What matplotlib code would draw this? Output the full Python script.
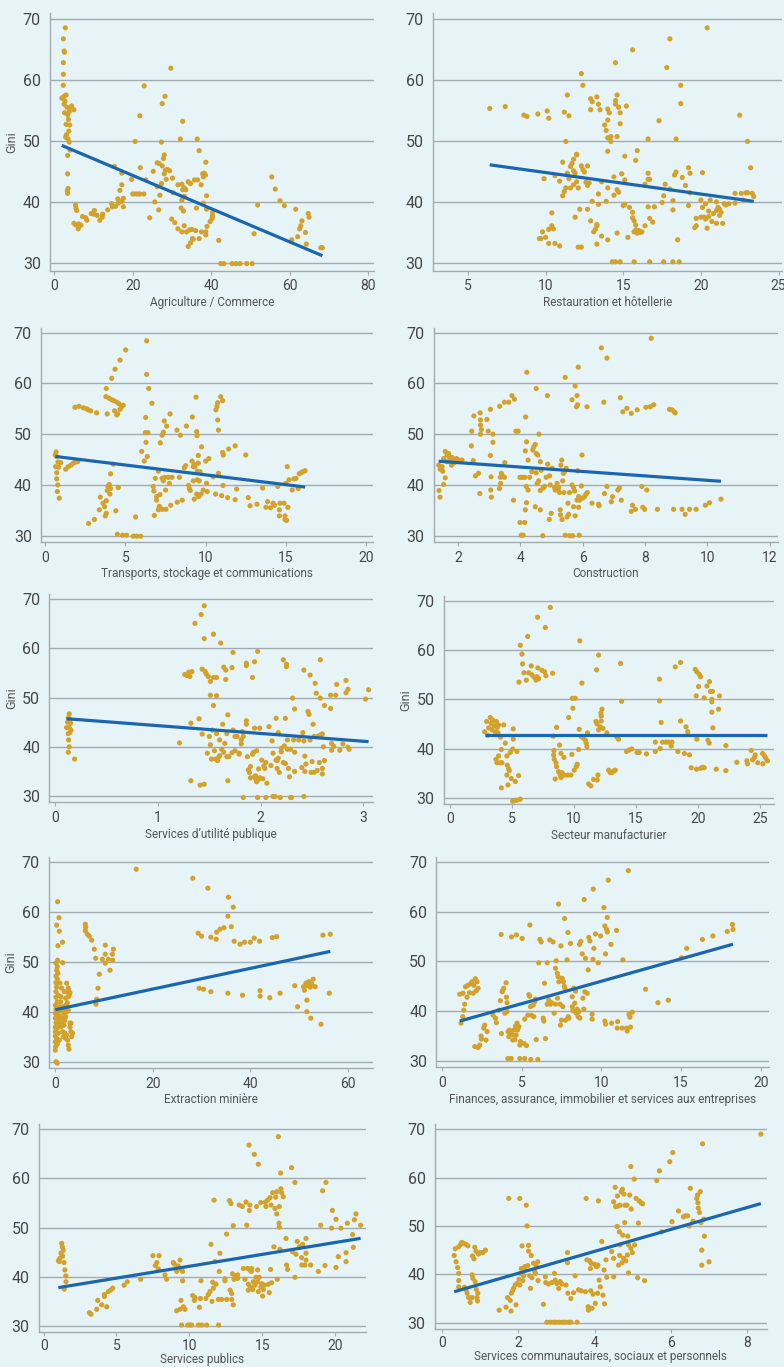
import numpy as np
import matplotlib
matplotlib.use("Agg")
import matplotlib.pyplot as plt

plt.rcParams['font.family'] = ['Roboto', 'DejaVu Sans']

BG = '#e6f4f8'
DOT = '#d4a22b'
LINE = '#1a66b0'

# ---- data (share of employment by sector vs Gini) ----
agri_pts = [(2.8,68.5),(2.3,66.7),(2.5,64.7),(2.6,64.5),(2.3,62.8),(2.3,60.9),(2.3,59.1),(1.9,57.0),(2.5,57.3),
    (3.0,57.5),(2.7,56.5),(2.5,56.0),(3.2,55.5),(4.0,55.3),(4.4,55.7),(5.0,55.1),(2.6,54.6),(3.8,54.8),(3.4,54.3),
    (3.6,53.5),(3.0,52.7),(3.9,52.6),(3.7,51.6),(3.1,51.0),(2.9,50.6),(3.5,50.3),(3.8,49.8),(4.0,48.5),(3.4,47.6),
    (3.4,44.6),(3.5,42.2),(3.3,41.8),(3.4,41.4),(5.4,39.5),(5.5,39.0),(5.7,38.6),(5.0,36.5),(5.5,36.2),(6.2,36.4),
    (6.3,36.0),(6.1,35.6),(6.8,36.2),(7.2,37.6),(8.0,37.4),(8.3,37.0),(9.4,38.1),(10.2,38.6),(10.0,38.0),(10.9,37.8),
    (11.6,37.0),(12.2,37.5),(12.3,38.0),(13.6,38.7),(14.6,39.7),(14.8,39.2),(15.6,39.3),(16.2,40.5),(16.7,41.9),
    (17.2,42.8),(17.2,40.1),(17.6,40.6),(17.6,39.2),(16.3,39.8),(17.2,44.7),(15.3,45.8),(19.7,43.7),(20.6,49.9),
    (21.8,54.1),(21.9,45.6),(22.9,59.0),(20.0,41.3),(20.7,41.3),(21.3,41.3),(21.9,41.3),(22.8,41.3),(23.3,43.6),
    (24.3,37.4),(25.2,45.0),(25.6,40.0),(26.2,46.4),(26.6,38.7),(26.2,42.5),(26.9,41.1),(27.3,49.8),(27.5,56.1),
    (28.2,57.3),(29.7,61.9),(27.3,43.0),(27.8,47.1),(28.0,47.7),(27.5,45.9),(26.7,46.3),(28.3,45.2),(28.8,45.3),
    (29.4,45.1),(28.0,44.6),(28.5,43.7),(30.1,43.9),(30.3,41.5),(29.9,37.2),(30.7,36.6),(31.5,35.6),(31.5,42.8),
    (32.1,50.3),(32.7,53.2),(32.5,42.9),(32.7,42.0),(33.1,42.3),(33.5,42.0),(33.2,40.9),(32.5,40.3),(32.3,39.0),
    (32.9,38.5),(32.5,35.1),(33.1,36.1),(33.7,35.1),(34.4,35.4),(34.1,32.7),(34.7,33.3),(35.2,34.0),(35.4,33.9),
    (35.0,35.5),(36.0,35.3),(36.9,34.0),(37.5,35.1),(38.6,35.1),(38.6,34.6),(38.9,36.0),(39.7,36.8),(40.2,37.3),
    (40.3,37.7),(40.3,38.3),(38.8,38.8),(36.2,39.0),(36.4,50.3),(36.9,48.4),(34.1,43.3),(34.7,43.0),(35.7,43.6),
    (36.5,43.6),(37.4,42.8),(38.0,44.1),(37.8,44.6),(38.2,44.7),(38.5,44.4),(38.6,46.5),(38.8,41.0),(38.0,39.8),
    (42.4,29.9),(43.2,29.9),(45.3,29.9),(46.3,29.9),(47.3,29.9),(49.0,29.9),(50.4,29.9),(41.9,33.7),(50.9,34.8),
    (51.8,39.5),(55.4,44.1),(56.3,42.1),(57.5,40.2),(58.6,39.4),(60.5,33.8),(61.5,38.8),(62.0,34.3),(62.5,35.6),
    (62.8,36.1),(63.1,36.9),(64.0,35.0),(64.2,33.1),(64.7,38.1),(64.9,37.5),(67.9,32.5),(68.3,32.5)]

resto_pts = [(6.4,55.3),(7.4,55.6),(8.6,54.2),(8.8,54.0),(9.5,54.4),(10.1,54.9),(10.2,53.7),(9.9,43.8),(9.6,34.0),
    (9.7,34.0),(9.8,35.1),(10.0,34.2),(10.2,33.2),(10.2,35.5),(10.4,38.2),(10.4,36.1),(10.5,35.6),(10.6,33.2),
    (10.9,32.8),(10.6,44.3),(10.9,43.4),(11.1,46.5),(11.1,41.0),(11.2,41.7),(11.3,42.3),(11.3,49.9),(11.2,54.7),
    (11.4,57.5),(11.5,54.1),(11.4,44.7),(11.5,43.8),(11.6,45.8),(11.7,46.3),(11.8,47.0),(12.0,47.7),(12.0,47.8),
    (11.6,42.3),(11.8,42.8),(11.8,45.1),(11.9,44.7),(12.0,43.3),(12.1,42.3),(12.3,45.9),(12.4,45.3),(12.5,44.9),
    (12.6,43.2),(12.7,42.7),(12.8,43.1),(12.7,45.9),(12.3,61.0),(12.4,59.1),(11.9,37.5),(12.1,32.6),(12.3,32.6),
    (12.2,38.8),(12.7,38.8),(12.9,36.9),(13.0,40.1),(13.1,35.1),(13.2,35.5),(13.3,36.1),(13.3,36.3),(13.3,33.1),
    (13.4,41.3),(13.4,39.6),(13.6,34.4),(12.9,55.1),(12.9,56.9),(13.0,56.4),(13.3,57.2),(13.4,56.0),(13.5,55.1),
    (13.6,43.3),(13.9,40.1),(13.8,52.6),(13.9,51.7),(14.0,50.5),(14.0,55.2),(14.0,48.3),(14.0,53.4),(14.1,54.6),
    (14.2,49.9),(14.2,50.7),(14.0,42.3),(14.0,33.8),(14.3,30.2),(14.5,30.2),(14.8,30.2),(15.7,30.2),(14.4,41.1),
    (14.4,44.1),(14.5,56.0),(14.5,56.6),(14.6,57.5),(14.5,62.8),(14.6,42.0),(14.7,41.6),(14.6,50.7),(14.6,34.9),
    (14.7,55.5),(14.8,54.6),(14.8,52.8),(14.9,44.6),(15.0,39.4),(15.1,43.6),(15.1,39.6),(15.1,47.5),(15.2,55.7),
    (15.3,34.2),(15.4,39.1),(15.6,38.3),(15.6,37.4),(15.7,36.9),(15.8,36.2),(15.7,35.1),(15.8,35.4),(15.9,34.9),
    (16.0,35.3),(16.1,35.0),(16.2,35.1),(15.8,46.8),(15.9,48.4),(15.6,64.9),(16.4,42.9),(16.4,36.1),(16.6,44.7),
    (16.6,43.7),(16.7,43.7),(16.6,39.2),(16.7,37.3),(16.9,36.7),(17.0,39.2),(16.6,50.3),(16.7,30.2),(17.3,53.3),
    (17.5,39.9),(17.6,41.0),(17.7,42.9),(17.6,30.2),(17.8,62.0),(18.0,66.7),(18.0,42.1),(18.2,40.2),(18.2,38.7),
    (18.2,30.2),(18.3,44.4),(18.4,44.9),(18.4,50.3),(18.5,33.8),(18.6,30.2),(18.7,56.1),(18.7,59.1),(18.8,44.0),
    (19.0,42.7),(19.2,45.6),(19.2,39.4),(19.3,44.7),(19.3,41.5),(19.6,35.8),(19.7,36.1),(19.7,37.3),(20.0,37.5),
    (20.0,40.3),(20.1,44.8),(20.1,39.1),(20.2,37.5),(20.3,39.7),(20.3,37.2),(20.4,35.7),(20.5,37.6),(20.5,38.5),
    (20.6,40.3),(20.7,36.8),(20.4,68.5),(20.8,38.1),(21.0,40.0),(21.0,36.5),(21.0,38.6),(21.1,39.1),(21.2,37.8),
    (21.2,38.8),(21.3,38.3),(21.4,36.5),(21.5,39.7),(21.6,39.5),(21.8,39.7),(22.2,39.8),(22.2,41.4),(22.5,54.2),
    (22.6,41.4),(22.7,40.3),(22.9,41.5),(23.0,49.9),(23.2,45.6),(23.3,41.4),(23.4,40.9),(23.0,41.5)]

transp_pts = [(0.67,46.5),(0.62,45.9),(0.71,45.6),(0.64,43.6),(0.79,44.5),(0.83,43.5),(0.96,44.4),(0.71,42.4),
    (0.71,41.2),(0.77,40.0),(0.75,38.7),(0.87,37.4),(1.27,43.1),(1.43,43.6),(1.6,43.9),(1.75,44.3),(1.87,44.5),
    (2.02,44.6),(1.85,55.3),(2.1,55.5),(2.37,55.2),(2.58,55.0),(2.68,54.8),(2.83,54.6),(3.2,54.2),(2.7,32.4),
    (3.06,33.2),(3.37,35.1),(3.43,37.6),(3.6,36.4),(3.7,35.7),(3.74,33.9),(3.8,34.4),(3.8,36.9),(3.86,38.9),
    (4.03,38.2),(3.9,39.7),(3.99,40.1),(4.07,42.2),(4.07,39.3),(4.24,44.1),(4.4,34.9),(4.55,39.5),(3.8,59.0),
    (3.78,57.4),(3.97,57.1),(4.14,56.8),(4.28,56.6),(4.45,56.3),(4.6,56.0),(4.76,55.4),(4.86,55.7),(4.66,54.9),
    (4.32,54.6),(4.45,53.8),(3.86,54.0),(4.51,54.0),(4.14,61.0),(4.35,62.8),(4.66,64.6),(5.01,66.6),(4.49,30.3),
    (4.82,30.1),(5.07,30.1),(5.49,29.9),(5.7,29.9),(5.95,29.9),(5.63,33.7),(6.32,68.4),(6.32,61.8),(6.45,59.0),
    (6.65,56.1),(6.01,46.6),(6.17,44.7),(6.24,50.3),(6.4,50.3),(6.26,53.3),(6.28,48.4),(6.36,45.6),(6.73,39.7),
    (6.77,38.8),(6.86,41.3),(6.8,34.0),(6.94,37.7),(6.94,37.0),(7.05,42.7),(7.05,35.1),(7.11,35.8),(7.15,38.1),
    (7.17,48.3),(7.28,49.8),(7.36,50.4),(7.42,52.6),(7.57,51.6),(7.78,54.0),(7.28,41.3),(7.36,40.8),(7.44,41.5),
    (7.5,39.0),(7.53,35.2),(7.67,41.5),(7.74,40.3),(7.9,41.5),(7.82,36.0),(7.11,35.5),(7.3,35.2),(8.23,36.6),
    (8.21,50.8),(8.42,49.8),(8.36,41.5),(8.54,37.0),(8.67,43.4),(8.75,43.8),(8.8,51.6),(8.94,39.9),(8.98,39.3),
    (9.04,38.9),(9.17,53.4),(9.15,44.7),(9.23,43.6),(9.29,44.0),(9.33,43.6),(9.23,40.8),(9.29,37.2),(9.4,57.3),
    (9.44,50.5),(9.46,49.7),(9.48,41.0),(9.48,42.7),(9.54,44.3),(9.54,45.8),(9.65,42.6),(9.6,40.8),(9.44,38.2),
    (9.56,37.7),(9.71,38.2),(9.75,47.5),(9.85,39.0),(10.0,44.7),(10.06,40.3),(10.1,38.7),(10.2,45.2),(10.47,41.6),
    (10.62,38.2),(10.64,54.8),(10.71,55.5),(10.75,56.2),(10.75,52.8),(10.8,50.8),(10.8,42.3),(10.94,57.4),
    (11.06,56.6),(11.06,46.4),(11.1,45.9),(11.08,39.9),(11.0,37.9),(11.37,37.5),(11.43,47.1),(11.84,47.7),
    (11.84,37.1),(11.93,39.2),(12.5,45.9),(12.66,37.5),(12.77,35.9),(13.2,36.2),(13.55,39.4),(13.76,35.6),
    (13.86,36.7),(14.05,35.5),(14.2,36.4),(14.3,36.0),(14.5,39.7),(14.6,35.1),(14.6,33.9),(14.64,36.4),
    (14.89,36.4),(14.95,33.9),(14.95,33.2),(15.05,33.0),(15.0,40.3),(15.09,43.6),(15.13,35.6),(15.2,41.0),
    (15.4,39.0),(15.5,41.2),(15.63,41.3),(15.78,39.3),(15.84,42.2),(15.95,42.4),(16.05,42.6),(16.2,42.8)]

constr_pts = [(1.39,38.9),(1.42,37.6),(1.38,43.9),(1.43,43.1),(1.49,43.6),(1.51,42.7),(1.54,40.1),(1.59,41.4),
    (1.54,45.2),(1.59,46.6),(1.65,45.9),(1.7,46.2),(1.72,45.6),(1.65,44.6),(1.75,45.2),(1.79,43.9),(1.84,44.9),
    (1.86,44.3),(1.91,44.9),(1.97,44.6),(2.02,44.9),(2.13,44.9),(1.95,45.2),(1.81,45.4),(2.44,50.6),(2.43,47.7),
    (2.49,44.8),(2.51,53.6),(2.56,41.8),(2.66,42.3),(2.70,38.3),(2.71,54.2),(2.72,52.8),(2.72,51.8),(2.75,50.9),
    (2.72,50.0),(2.93,52.9),(2.97,50.6),(3.04,54.9),(3.04,45.8),(3.06,41.6),(3.05,39.0),(3.07,37.6),(3.12,50.0),
    (3.12,48.4),(3.34,55.5),(3.33,39.3),(3.36,41.5),(3.37,40.3),(3.39,42.3),(3.43,41.8),(3.49,41.5),(3.5,44.4),
    (3.49,56.3),(3.63,56.3),(3.73,57.6),(3.81,56.9),(3.78,37.0),(3.86,50.6),(3.93,50.6),(3.99,32.6),(3.99,41.5),
    (4.07,41.5),(4.03,30.1),(4.09,30.1),(4.14,41.5),(4.14,32.6),(4.16,35.1),(4.16,46.7),(4.17,53.4),(4.19,39.7),
    (4.21,62.2),(4.20,48.5),(4.20,36.5),(4.25,44.9),(4.25,39.0),(4.3,41.5),(4.37,42.6),(4.40,46.9),(4.43,47.5),
    (4.48,48.0),(4.51,59.0),(4.48,35.7),(4.54,40.3),(4.51,42.4),(4.51,46.2),(4.56,45.9),(4.6,50.0),(4.59,40.8),
    (4.64,35.1),(4.64,38.9),(4.64,44.6),(4.67,42.9),(4.72,30.0),(4.73,39.4),(4.78,39.7),(4.83,41.5),(4.87,57.6),
    (4.88,44.1),(4.93,33.2),(4.94,41.8),(4.96,40.0),(4.99,34.4),(5.02,43.3),(5.1,39.5),(5.12,39.0),(5.18,40.3),
    (5.2,39.0),(5.23,39.5),(5.26,38.5),(5.28,35.1),(5.29,34.1),(5.3,43.9),(5.33,44.9),(5.34,33.2),(5.36,40.8),
    (5.38,42.3),(5.4,38.5),(5.42,42.6),(5.44,61.2),(5.44,30.1),(5.47,43.3),(5.5,33.7),(5.53,36.4),(5.55,34.2),
    (5.58,30.0),(5.58,38.5),(5.66,56.8),(5.66,40.0),(5.68,30.0),(5.71,35.7),(5.71,39.4),(5.74,38.8),(5.76,59.5),
    (5.76,33.9),(5.8,55.4),(5.82,57.6),(5.84,55.8),(5.84,42.8),(5.87,35.6),(5.86,63.2),(5.82,37.0),(5.87,37.7),
    (5.89,30.1),(5.9,37.0),(5.96,39.8),(5.98,45.9),(6.0,37.4),(6.06,37.7),(6.11,38.2),(6.14,55.4),(6.15,38.5),
    (6.3,36.4),(6.51,36.2),(6.53,35.9),(6.6,67.0),(6.68,56.3),(6.7,38.3),(6.78,65.0),(6.78,39.7),(6.92,36.7),
    (6.96,37.7),(7.13,39.0),(7.18,39.4),(7.21,57.2),(7.24,37.0),(7.29,54.4),(7.42,55.1),(7.56,54.1),(7.56,34.8),
    (7.6,36.0),(7.69,35.2),(7.75,54.8),(7.9,39.7),(7.93,35.6),(7.99,35.2),(8.03,55.3),(8.06,39.0),(8.17,55.4),
    (8.28,55.8),(8.2,68.9),(8.4,35.2),(8.79,54.9),(8.87,54.8),(8.94,54.4),(8.97,54.2),(8.92,35.2),(9.19,35.2),
    (9.29,34.2),(9.43,35.2),(9.64,35.2),(9.94,36.0),(10.07,36.5),(10.44,37.2)]

util_pts = [(0.136,46.7),(0.127,45.9),(0.143,45.5),(0.12,45.0),(0.149,44.8),(0.11,43.9),(0.136,43.9),(0.153,43.4),
    (0.127,42.7),(0.143,42.9),(0.13,41.4),(0.136,40.0),(0.127,38.9),(0.188,37.5),(1.21,40.8),(1.26,54.7),
    (1.28,54.5),(1.30,55.2),(1.31,54.3),(1.33,55.3),(1.32,33.1),(1.32,44.8),(1.36,65.1),(1.40,45.7),(1.41,32.2),
    (1.42,66.9),(1.43,42.6),(1.43,55.8),(1.45,62.0),(1.45,32.4),(1.45,68.7),(1.46,55.3),(1.47,54.8),(1.49,54.3),
    (1.48,38.7),(1.5,42.1),(1.51,53.3),(1.51,40.4),(1.51,50.5),(1.52,37.5),(1.53,43.4),(1.54,48.4),(1.54,54.1),
    (1.54,62.9),(1.55,39.2),(1.56,37.5),(1.57,42.7),(1.57,54.1),(1.57,50.4),(1.58,37.2),(1.59,37.9),(1.6,41.4),
    (1.6,38.2),(1.61,61.1),(1.62,39.5),(1.63,44.6),(1.64,38.9),(1.64,56.2),(1.65,40.7),(1.66,53.7),(1.66,55.6),
    (1.67,42.7),(1.67,38.0),(1.68,46.5),(1.68,33.1),(1.69,38.0),(1.72,38.8),(1.72,56.1),(1.73,59.2),(1.73,43.4),
    (1.75,42.1),(1.75,39.2),(1.77,42.1),(1.79,38.7),(1.79,38.5),(1.81,41.4),(1.81,40.6),(1.82,43.1),(1.83,42.1),
    (1.83,29.7),(1.86,44.6),(1.86,45.3),(1.86,57.0),(1.86,56.5),(1.87,38.0),(1.88,35.3),(1.89,34.8),(1.9,36.0),
    (1.9,33.7),(1.92,54.1),(1.92,38.5),(1.93,38.9),(1.94,57.3),(1.94,43.8),(1.94,33.9),(1.95,33.5),(1.95,34.1),
    (1.96,39.2),(1.96,32.9),(1.97,29.7),(1.97,59.4),(1.98,35.5),(1.98,33.4),(1.99,43.8),(1.99,33.7),(2.01,37.3),
    (2.02,33.5),(2.03,36.1),(2.04,35.6),(2.05,36.8),(2.05,29.7),(2.06,32.6),(2.08,44.1),(2.10,36.2),(2.11,41.2),
    (2.12,38.7),(2.12,29.9),(2.14,29.9),(2.15,37.3),(2.15,45.8),(2.16,35.6),(2.16,37.2),(2.17,42.9),(2.17,37.7),
    (2.18,34.8),(2.19,29.7),(2.2,39.7),(2.2,39.0),(2.22,36.8),(2.22,57.7),(2.23,40.2),(2.24,36.6),(2.24,45.8),
    (2.25,56.8),(2.25,56.3),(2.26,39.5),(2.26,41.4),(2.27,35.6),(2.28,33.9),(2.29,29.7),(2.29,39.5),(2.3,29.7),
    (2.31,49.9),(2.32,41.4),(2.33,38.9),(2.33,47.7),(2.33,35.0),(2.37,41.4),(2.4,35.8),(2.41,42.9),(2.42,41.2),
    (2.42,29.9),(2.42,55.6),(2.43,38.1),(2.43,35.0),(2.44,36.5),(2.46,47.2),(2.47,46.6),(2.48,54.6),(2.48,41.4),
    (2.49,34.8),(2.5,37.0),(2.51,44.6),(2.52,42.1),(2.52,34.8),(2.53,52.9),(2.54,50.9),(2.55,35.2),(2.56,42.2),
    (2.57,36.8),(2.58,49.9),(2.58,57.7),(2.59,42.5),(2.6,35.6),(2.6,34.5),(2.6,42.6),(2.61,40.0),(2.62,48.4),
    (2.62,37.2),(2.68,50.5),(2.68,47.8),(2.69,40.7),(2.69,39.3),(2.71,40.1),(2.73,50.5),(2.74,52.7),(2.77,39.3),
    (2.8,40.6),(2.83,53.5),(2.83,51.0),(2.85,51.7),(2.85,39.9),(2.86,39.5),(3.02,49.7),(3.05,51.6)]

manuf_pts = [(2.82,43.4),(2.98,45.5),(3.14,44.2),(3.06,42.7),(3.27,46.3),(3.35,45.1),(3.41,43.8),(3.46,45.8),
    (3.57,44.6),(3.67,43.4),(3.76,45.5),(3.84,44.3),(3.89,43.2),(3.94,44.8),(4.1,42.3),(4.16,39.8),(4.35,44.8),
    (3.73,37.8),(3.81,37.1),(3.94,38.5),(4.08,37.1),(4.21,37.1),(4.16,32.0),(4.48,41.1),(4.61,38.5),(4.64,36.6),
    (4.69,32.6),(4.75,35.9),(4.8,35.5),(4.61,34.6),(4.88,39.2),(4.96,33.9),(5.07,39.9),(5.12,41.9),(5.12,44.0),
    (5.28,33.3),(5.42,39.4),(5.55,34.5),(5.07,29.3),(5.23,29.4),(5.42,29.5),(5.69,29.7),(5.58,53.5),(5.69,61.0),
    (5.82,59.2),(5.87,57.2),(5.98,55.4),(6.17,53.9),(6.28,62.8),(6.36,55.4),(6.57,56.8),(6.62,55.0),(6.81,54.5),
    (6.95,53.9),(7.03,54.6),(7.1,56.4),(7.16,54.2),(7.08,66.7),(7.43,55.9),(7.64,55.6),(7.75,54.8),(7.7,64.6),
    (8.1,68.7),(8.29,55.3),(8.34,42.5),(8.4,39.6),(8.37,38.7),(8.42,37.8),(8.56,37.1),(8.5,33.8),(8.61,36.3),
    (8.61,44.3),(8.77,35.3),(8.85,40.7),(8.9,34.6),(8.96,34.1),(8.96,39.0),(9.04,35.1),(9.2,38.2),(9.23,34.6),
    (9.5,34.6),(9.58,46.3),(9.76,34.6),(9.84,38.8),(9.92,48.2),(9.87,50.2),(10.11,50.2),(10.03,35.6),(10.19,36.3),
    (10.27,36.8),(10.38,39.8),(10.43,43.9),(10.48,61.9),(10.65,53.3),(10.6,42.4),(10.78,42.1),(10.92,41.7),
    (11.0,41.1),(11.05,40.4),(11.1,43.2),(11.19,32.8),(11.37,32.4),(11.59,33.7),(11.78,45.5),(11.83,56.0),
    (11.86,45.0),(11.88,33.6),(11.94,34.6),(11.99,59.0),(11.99,43.8),(12.13,44.4),(12.18,47.2),(12.2,46.6),
    (12.2,45.6),(12.26,48.0),(12.34,44.1),(12.66,43.2),(12.8,35.6),(12.93,35.1),(13.06,35.1),(13.2,35.4),
    (13.33,35.6),(13.47,42.3),(13.6,41.9),(13.76,57.3),(13.84,49.6),(14.24,39.4),(14.46,39.7),(14.67,39.9),
    (15.08,39.2),(15.26,39.2),(15.85,38.9),(16.56,41.3),(16.56,39.4),(16.9,54.1),(16.9,49.7),(16.95,40.0),
    (17.03,45.3),(17.14,41.3),(17.41,41.3),(17.62,41.3),(17.84,40.5),(17.9,41.3),(18.16,56.6),(18.37,39.4),
    (18.59,57.5),(18.59,45.6),(18.9,39.0),(19.03,44.4),(19.17,43.4),(19.31,38.7),(19.45,36.1),(19.77,56.1),
    (19.85,50.7),(19.9,55.6),(19.9,41.9),(19.88,35.8),(20.04,52.6),(20.09,55.1),(20.2,54.6),(20.22,36.0),
    (20.38,36.2),(20.49,36.1),(20.49,50.3),(20.72,52.7),(20.79,41.7),(20.9,41.1),(20.92,53.6),(21.0,51.6),
    (21.11,50.0),(21.16,51.6),(21.11,49.5),(21.11,47.4),(21.19,44.2),(21.46,35.8),(21.65,48.0),(21.73,50.7),
    (22.24,35.5),(22.24,40.6),(23.12,37.2),(23.93,37.5),(23.98,36.9),(24.28,39.6),(24.39,37.7),(24.54,38.2),
    (24.6,38.7),(24.81,37.1),(25.19,39.0),(25.22,36.9),(25.35,38.5),(25.46,38.0),(25.59,37.5)]

mining_pts = [(0.48,62.0),(0.75,58.8),(0.27,57.3),(0.82,56.1),(0.55,53.2),(1.5,53.9),(0.48,50.3),(0.14,49.7),
    (1.5,49.8),(0.41,49.0),(0.27,48.3),(0.55,47.7),(0.14,47.1),(0.41,46.5),(0.14,45.8),(0.96,45.7),(0.27,44.9),
    (0.14,44.0),(0.62,43.3),(0.14,42.9),(0.41,42.0),(0.02,41.3),(0.82,41.0),(0.14,40.5),(0.62,40.0),(0.0,39.7),
    (0.27,39.3),(0.96,39.1),(0.02,38.7),(0.62,38.3),(1.3,38.7),(0.14,37.8),(0.82,37.5),(0.0,36.9),(0.41,36.7),
    (1.16,37.0),(0.02,36.0),(0.62,35.7),(0.0,35.1),(0.27,34.7),(0.82,34.3),(0.02,34.0),(0.41,33.5),(0.0,32.3),
    (0.05,33.0),(0.14,30.0),(0.41,29.7),(1.3,40.3),(1.5,41.0),(1.78,39.7),(1.64,38.7),(1.98,38.3),(2.19,41.3),
    (2.46,41.8),(2.33,44.0),(2.33,45.7),(2.67,44.7),(2.87,43.8),(2.67,43.0),(2.12,42.7),(1.98,40.5),(2.33,40.0),
    (1.78,37.3),(1.5,36.0),(1.98,35.7),(1.64,35.0),(2.12,34.7),(2.33,35.3),(2.53,34.3),(2.67,33.3),(2.8,32.5),
    (3.01,36.9),(3.21,36.0),(3.35,35.0),(3.56,35.7),(3.01,37.7),(2.87,43.3),(3.01,43.8),(1.85,44.0),(1.3,44.7),
    (2.12,39.0),(1.09,42.0),(1.16,43.0),(1.44,37.7),(2.67,40.3),(3.21,37.7),(6.16,57.5),(6.23,56.9),(6.16,56.2),
    (6.57,55.5),(6.98,55.1),(7.46,54.3),(8.0,52.5),(8.28,50.7),(8.48,42.5),(8.34,41.5),(8.76,44.7),(9.03,47.5),
    (9.64,50.5),(10.26,53.3),(10.26,51.5),(10.26,49.7),(10.88,50.5),(11.22,48.3),(11.7,51.5),(11.9,52.5),
    (11.76,50.3),(16.6,68.5),(28.2,66.7),(31.3,64.7),(35.5,62.9),(36.5,60.9),(35.4,59.1),(36.1,57.0),(29.3,55.7),
    (30.0,55.1),(31.9,54.9),(33.0,54.5),(33.1,55.9),(33.8,56.5),(34.6,56.8),(36.7,54.1),(37.9,53.5),(38.8,53.9),
    (40.0,53.9),(40.8,54.7),(41.9,54.1),(44.5,54.8),(45.4,55.0),(29.5,44.7),(30.4,44.5),(31.9,44.0),(35.4,43.7),
    (38.4,43.3),(42.0,44.2),(42.0,43.1),(44.0,42.8),(46.1,43.7),(49.1,45.2),(49.7,41.0),(50.9,45.0),(51.1,44.3),
    (51.4,45.7),(51.6,42.3),(51.6,40.0),(51.8,45.2),(52.0,46.0),(52.3,44.9),(52.4,38.7),(52.6,45.5),(52.9,46.5),
    (53.3,45.0),(54.5,37.5),(54.9,55.3),(56.4,55.5),(56.2,43.7)]

fin_pts = [(1.11,43.4),(1.19,37.6),(1.3,38.9),(1.32,43.6),(1.36,40.2),(1.42,41.4),(1.47,44.9),(1.57,42.8),
    (1.63,45.2),(1.72,43.7),(1.8,45.5),(1.88,45.9),(1.95,43.6),(1.99,45.2),(2.09,46.5),(2.14,44.1),(2.2,45.9),
    (2.26,44.6),(2.05,32.9),(2.26,32.7),(2.37,33.2),(2.45,35.0),(2.47,34.4),(2.62,36.6),(2.68,37.2),(2.76,34.2),
    (2.83,35.9),(3.2,39.2),(3.35,38.6),(3.41,37.7),(3.56,40.2),(3.66,42.1),(3.73,35.5),(3.71,55.4),(3.77,43.9),
    (3.81,44.2),(3.87,44.6),(3.94,39.6),(4.02,45.7),(4.04,42.8),(4.08,41.7),(4.08,39.9),(4.13,30.5),(4.15,35.9),
    (4.19,34.9),(4.23,36.2),(4.29,35.5),(4.34,30.5),(4.36,54.9),(4.4,35.3),(4.44,34.2),(4.5,36.2),(4.57,34.3),
    (4.61,37.0),(4.65,35.2),(4.67,55.3),(4.71,37.6),(4.73,36.2),(4.78,36.6),(4.82,36.9),(4.88,30.5),(4.88,33.2),
    (4.92,33.9),(5.03,54.6),(5.15,33.5),(5.19,38.4),(5.19,30.5),(5.3,33.1),(5.38,39.2),(5.45,43.3),(5.49,43.0),
    (5.51,57.3),(5.55,40.9),(5.57,30.3),(5.61,39.2),(5.72,41.2),(5.76,38.9),(5.82,41.9),(5.86,42.4),(5.91,34.3),
    (6.01,30.3),(6.07,49.7),(6.14,54.4),(6.22,53.9),(6.35,38.6),(6.43,45.6),(6.39,38.0),(6.49,34.5),(6.6,49.7),
    (6.6,41.4),(6.7,42.2),(6.76,54.3),(6.81,41.4),(6.87,41.7),(6.97,53.9),(7.04,39.6),(7.12,41.4),(7.16,50.1),
    (7.12,48.6),(7.23,47.6),(7.25,42.6),(7.29,46.9),(7.31,61.5),(7.33,45.9),(7.41,41.4),(7.43,37.2),(7.46,53.1),
    (7.5,38.2),(7.54,46.6),(7.58,40.9),(7.62,45.9),(7.67,45.0),(7.69,58.6),(7.71,44.6),(7.75,38.2),(7.85,50.3),
    (7.9,55.8),(7.92,38.9),(7.96,38.6),(8.06,53.6),(8.17,42.9),(8.17,40.9),(8.21,40.1),(8.27,44.6),(8.33,41.6),
    (8.38,44.0),(8.42,39.6),(8.48,40.4),(8.54,38.9),(8.59,39.9),(8.63,53.4),(8.65,38.6),(8.71,54.0),(8.8,51.5),
    (8.84,42.6),(8.9,40.4),(8.92,62.4),(8.96,43.9),(9.0,50.6),(9.11,43.6),(9.17,48.3),(9.21,54.8),(9.28,54.1),
    (9.42,39.4),(9.42,38.4),(9.47,50.4),(9.49,64.5),(9.53,52.6),(9.63,55.5),(9.8,49.7),(9.95,55.1),(10.16,60.8),
    (10.22,57.1),(10.22,38.0),(10.26,37.4),(10.26,51.5),(10.32,56.4),(10.37,58.8),(10.37,55.9),(10.43,66.3),
    (10.6,53.4),(10.64,37.6),(10.95,56.2),(11.0,36.6),(11.02,37.9),(11.31,36.6),(11.35,50.3),(11.58,36.6),
    (11.62,36.0),(11.69,68.2),(11.73,39.4),(11.79,38.8),(11.83,36.8),(11.94,39.8),(12.77,44.4),(13.55,41.7),
    (14.2,42.2),(15.02,50.7),(15.35,52.6),(16.34,54.4),(17.0,55.1),(17.9,56.0),(18.22,57.4),(18.26,56.4)]

pub_pts = [(1.01,43.3),(1.12,43.8),(1.08,43.1),(1.19,44.8),(1.24,46.8),(1.28,46.1),(1.35,45.4),(1.3,44.2),
    (1.4,42.9),(1.46,41.4),(1.53,40.2),(1.53,39.0),(1.42,37.5),(3.14,32.7),(3.25,32.4),(3.64,33.4),(3.71,35.2),
    (3.98,34.3),(4.17,36.0),(4.17,36.4),(4.33,33.9),(4.44,37.0),(4.6,37.3),(4.74,37.7),(5.52,38.3),(5.74,39.0),
    (6.66,39.5),(7.5,44.3),(7.66,42.3),(7.77,42.9),(7.92,44.3),(7.87,41.6),(8.33,40.4),(8.44,39.5),(8.9,42.9),
    (8.97,42.6),(9.13,41.1),(9.13,33.1),(9.24,42.2),(9.36,33.4),(9.36,43.4),(9.43,35.2),(9.47,41.4),(9.47,30.2),
    (9.54,41.1),(9.59,33.9),(9.7,33.4),(9.54,39.2),(9.89,30.2),(10.05,30.2),(10.16,30.2),(10.23,36.2),(10.34,35.2),
    (10.39,35.8),(10.62,30.2),(10.69,33.8),(10.76,35.6),(10.8,39.2),(10.85,30.2),(11.19,30.2),(11.14,35.6),
    (11.3,36.4),(11.42,37.0),(11.49,46.6),(11.56,35.0),(11.6,38.9),(11.65,37.7),(11.7,55.6),(11.76,43.1),
    (11.83,38.5),(11.99,35.4),(12.01,30.2),(12.06,41.1),(12.1,44.8),(12.22,35.4),(12.45,39.6),(12.45,39.2),
    (12.56,48.7),(12.56,35.4),(12.75,55.5),(12.8,37.3),(12.86,54.9),(12.91,35.4),(12.91,36.6),(12.97,40.6),
    (13.02,50.4),(13.02,34.3),(13.07,39.5),(13.16,40.2),(13.32,39.7),(13.32,40.4),(13.43,54.6),(13.64,54.3),
    (13.71,41.7),(13.82,39.5),(13.89,55.2),(13.94,50.5),(14.0,41.7),(14.05,37.3),(14.05,38.5),(14.1,66.8),
    (14.12,53.5),(14.16,54.6),(14.16,41.4),(14.21,37.9),(14.26,41.1),(14.28,41.7),(14.35,37.4),(14.39,39.0),
    (14.46,64.9),(14.51,38.3),(14.58,39.9),(14.62,54.3),(14.69,39.0),(14.74,62.9),(14.69,41.4),(14.74,37.0),
    (14.8,39.9),(14.9,55.1),(14.92,37.9),(14.97,38.6),(15.03,36.1),(15.08,37.4),(15.15,38.3),(15.22,55.2),
    (15.26,54.3),(15.38,55.6),(15.42,38.5),(15.49,36.8),(15.54,56.1),(15.58,41.5),(15.61,54.6),(15.65,38.8),
    (15.72,57.1),(15.81,46.1),(15.88,53.9),(15.93,56.2),(16.0,57.3),(16.0,52.8),(16.04,39.5),(16.11,68.5),
    (16.16,50.9),(16.18,50.1),(16.18,54.3),(16.22,45.6),(16.27,61.1),(16.29,57.9),(16.34,57.1),(16.45,56.3),
    (16.64,47.8),(16.68,42.4),(16.75,41.5),(17.02,62.2),(17.09,45.1),(17.25,59.2),(17.25,39.9),(17.32,44.6),
    (17.41,47.2),(17.55,46.1),(17.71,43.9),(17.73,42.4),(17.78,46.6),(17.94,42.4),(18.01,44.8),(18.01,47.8),
    (18.01,43.4),(18.33,42.4),(18.86,41.1),(19.02,50.5),(19.15,57.5),(19.31,42.3),(19.38,59.2),(19.77,49.9),
    (19.82,53.5),(20.07,51.7),(20.07,41.9),(20.23,44.1),(20.41,49.9),(20.76,43.1),(20.76,44.9),(20.85,50.9),
    (21.21,48.6),(21.26,46.0),(21.33,51.6),(21.44,52.8),(21.76,50.5)]

comm_pts = [(0.32,43.9),(0.35,45.3),(0.37,42.6),(0.41,41.4),(0.44,40.2),(0.44,38.7),(0.44,37.4),(0.44,45.7),
    (0.49,46.2),(0.52,46.6),(0.57,46.4),(0.63,46.2),(0.68,45.9),(0.59,37.3),(0.63,36.8),(0.66,36.1),(0.7,35.2),
    (0.74,34.2),(0.79,35.2),(0.79,39.9),(0.8,43.8),(0.81,39.2),(0.84,43.2),(0.86,45.6),(0.87,38.5),(0.89,44.8),
    (0.9,36.9),(0.92,35.2),(0.93,34.5),(0.94,36.1),(0.96,44.2),(1.0,44.5),(1.07,44.5),(1.14,45.0),(1.5,32.6),
    (1.68,33.2),(1.72,35.2),(1.75,55.7),(1.79,34.6),(1.81,32.4),(1.82,36.1),(1.85,36.6),(1.88,37.1),(1.92,37.8),
    (1.94,33.7),(1.97,38.1),(2.02,39.0),(2.04,55.7),(2.04,37.8),(2.06,40.2),(2.08,41.2),(2.1,45.9),(2.12,38.7),
    (2.14,39.7),(2.17,41.6),(2.18,40.9),(2.21,54.3),(2.23,50.0),(2.25,41.8),(2.27,46.0),(2.27,44.8),(2.3,39.7),
    (2.32,37.1),(2.34,43.9),(2.36,39.3),(2.4,42.3),(2.43,40.6),(2.45,40.2),(2.47,41.8),(2.51,42.6),(2.52,38.7),
    (2.66,33.8),(2.71,39.5),(2.75,30.1),(2.72,38.3),(2.79,38.0),(2.84,30.1),(2.88,38.3),(2.93,30.1),(2.95,40.2),
    (2.97,38.8),(3.0,30.1),(3.01,38.1),(3.06,37.1),(3.08,30.1),(3.1,38.5),(3.14,38.0),(3.16,30.1),(3.23,30.1),
    (3.25,37.8),(3.29,44.5),(3.29,42.4),(3.3,36.1),(3.32,30.1),(3.38,35.0),(3.38,30.1),(3.45,36.2),(3.49,39.7),
    (3.54,30.1),(3.58,36.8),(3.65,36.6),(3.76,36.4),(3.78,55.7),(3.8,43.0),(3.83,33.3),(3.84,32.6),(3.87,42.8),
    (3.89,41.2),(3.9,36.6),(3.91,42.3),(3.93,33.0),(3.96,35.9),(4.0,42.1),(4.02,34.0),(4.04,41.7),(4.06,41.6),
    (4.08,36.1),(4.1,55.2),(4.09,41.9),(4.12,38.8),(4.15,37.4),(4.19,46.8),(4.22,35.7),(4.25,40.9),(4.26,33.9),
    (4.3,43.0),(4.32,39.4),(4.45,44.7),(4.5,55.0),(4.5,43.3),(4.5,39.5),(4.54,58.0),(4.55,54.0),(4.59,49.9),
    (4.6,56.2),(4.61,54.1),(4.63,41.9),(4.65,48.8),(4.66,43.9),(4.67,54.3),(4.67,46.1),(4.7,57.1),(4.72,42.4),
    (4.73,57.6),(4.74,48.1),(4.76,43.3),(4.77,56.6),(4.79,50.7),(4.8,54.3),(4.82,42.8),(4.85,54.3),(4.86,44.0),
    (4.87,47.9),(4.89,46.1),(4.89,40.3),(4.92,56.4),(4.95,45.4),(4.95,62.3),(4.96,53.5),(4.99,44.5),(5.04,59.7),
    (5.05,46.1),(5.09,55.7),(5.13,39.3),(5.15,50.6),(5.17,55.2),(5.22,54.8),(5.26,54.6),(5.31,38.7),(5.63,59.4),
    (5.7,61.4),(5.76,48.8),(5.97,63.3),(6.05,65.2),(6.03,50.9),(6.2,53.1),(6.33,51.9),(6.38,52.1),(6.44,52.1),
    (6.48,50.0),(6.51,57.8),(6.58,51.0),(6.68,55.7),(6.7,56.4),(6.71,54.8),(6.72,53.7),(6.75,52.8),(6.77,57.1),
    (6.79,50.7),(6.81,45.0),(6.81,41.9),(6.83,67.0),(6.86,51.4),(6.88,47.9),(7.0,42.6),(8.36,69.0)]

# fitted line (intercept, slope)
fits = {
    'agri': (49.77, -0.272), 'resto': (48.33, -0.352), 'transp': (45.86, -0.387),
    'constr': (45.27, -0.4355), 'util': (45.89, -1.586), 'manuf': (42.75, 0.0),
    'mining': (40.39, 0.2069), 'fin': (37.01, 0.900), 'pub': (37.32, 0.4826), 'comm': (35.68, 2.268),
}

labels = {
    'agri': 'Agriculture / Commerce', 'resto': 'Restauration et hôtellerie',
    'transp': 'Transports, stockage et communications', 'constr': 'Construction',
    'util': 'Services d\u2019utilité publique', 'manuf': 'Secteur manufacturier',
    'mining': 'Extraction minière',
    'fin': 'Finances, assurance, immobilier et services aux entreprises',
    'pub': 'Services publics', 'comm': 'Services communautaires, sociaux et personnels',
}

xticks = {
    'agri': [0, 20, 40, 60, 80], 'resto': [5, 10, 15, 20, 25], 'transp': [0, 5, 10, 15, 20],
    'constr': [2, 4, 6, 8, 10, 12], 'util': [0, 1, 2, 3], 'manuf': [0, 5, 10, 15, 20, 25],
    'mining': [0, 20, 40, 60], 'fin': [0, 5, 10, 15, 20], 'pub': [0, 5, 10, 15, 20], 'comm': [0, 2, 4, 6, 8],
}

points = {'agri': agri_pts, 'resto': resto_pts, 'transp': transp_pts, 'constr': constr_pts,
          'util': util_pts, 'manuf': manuf_pts, 'mining': mining_pts, 'fin': fin_pts,
          'pub': pub_pts, 'comm': comm_pts}

# layout in pixels: left, right, y of 70, y of 30, xlim, show "Gini"
W, H = 784, 1367
layout = {
    'agri':   (50, 374, 18.7, 263, (-1.1, 81.45), True),
    'resto':  (432.7, 782, 18.7, 263, (2.73, 25.22), False),
    'transp': (41, 372.7, 332.7, 535.7, (-0.27, 20.42), False),
    'constr': (433.7, 778, 332.7, 535.7, (1.22, 12.27), False),
    'util':   (49.3, 372.7, 599.3, 796, (-0.058, 3.09), True),
    'manuf':  (443.7, 773.7, 601, 797.7, (-0.48, 26.09), True),
    'mining': (49, 372.7, 861.7, 1061.7, (-1.29, 65.1), True),
    'fin':    (436.3, 768.7, 861.7, 1061, (-0.36, 20.5), False),
    'pub':    (38.7, 366, 1129.3, 1326, (-0.34, 22.13), False),
    'comm':   (434.7, 767, 1129.3, 1322.7, (-0.19, 8.52), False),
}

YLO, YHI = 28.7, 71.0
AXC = '#a4abae'

fig = plt.figure(figsize=(W / 100, H / 100), dpi=100, facecolor=BG)

for key, (l, r, y70, y30, xl, gini) in layout.items():
    ppu = (y30 - y70) / 40.0
    top = y70 - (YHI - 70) * ppu
    bot = y30 + (30 - YLO) * ppu
    ax = fig.add_axes([l / W, 1 - bot / H, (r - l) / W, (bot - top) / H])
    ax.set_facecolor(BG)

    pts = np.array(points[key])
    ax.scatter(pts[:, 0], pts[:, 1], s=14, color=DOT, edgecolors='none', zorder=3)

    b0, b1 = fits[key]
    lx = np.array([pts[:, 0].min(), pts[:, 0].max()])
    ax.plot(lx, b0 + b1 * lx, color=LINE, lw=2.3, zorder=4, solid_capstyle='butt')

    ax.set_xlim(*xl)
    ax.set_ylim(YLO, YHI)
    ax.set_xticks(xticks[key])
    ax.set_yticks([30, 40, 50, 60, 70])
    ax.grid(axis='y', color=AXC, lw=1.0, zorder=1)
    ax.set_axisbelow(True)
    for s in ['top', 'right']:
        ax.spines[s].set_visible(False)
    for s in ['left', 'bottom']:
        ax.spines[s].set_color(AXC)
        ax.spines[s].set_linewidth(1.0)
    bottom_row = key in ('pub', 'comm')
    ax.tick_params(axis='y', length=0, pad=6.5, labelsize=11.5, labelcolor='#474747')
    ax.tick_params(axis='x', length=3, color=AXC, pad=2 if bottom_row else 3,
                   labelsize=10, labelcolor='#474747')
    ax.set_xlabel(labels[key], fontsize=8.5, color='#555555', labelpad=0 if bottom_row else 2)
    if gini:
        ax.set_ylabel('Gini', fontsize=9, color='#555555', labelpad=3)

fig.savefig('out.png', dpi=100, facecolor=BG)
